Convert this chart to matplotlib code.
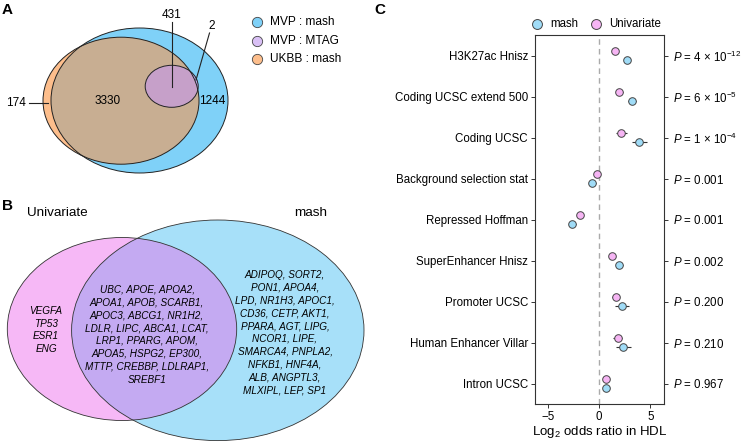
import matplotlib
matplotlib.use('Agg')
import matplotlib.pyplot as plt
from matplotlib.patches import Ellipse

plt.rcParams['font.family'] = ['Liberation Sans', 'DejaVu Sans']
plt.rcParams['mathtext.fontset'] = 'custom'
plt.rcParams['mathtext.rm'] = 'Liberation Sans'
plt.rcParams['mathtext.it'] = 'Liberation Sans:italic'

# ---- panel A: overlap of significant genes
venn_sets = ['MVP : mash', 'MVP : MTAG', 'UKBB : mash']
venn_legend_colors = ['#7fd1f8', '#d9c0f5', '#fdbe8c']
n_ukbb_only = 174
n_ukbb_mvp = 3330
n_all_three = 431
n_mtag_mvp = 2
n_mvp_only = 1244

# ---- panel B: HDL genes found by each method
set_left = 'Univariate'
set_right = 'mash'
genes_uni_only = ['VEGFA', 'TP53', 'ESR1', 'ENG']
genes_both = ['UBC, APOE, APOA2,', 'APOA1, APOB, SCARB1,', 'APOC3, ABCG1, NR1H2,',
              'LDLR, LIPC, ABCA1, LCAT,', 'LRP1, PPARG, APOM,', 'APOA5, HSPG2, EP300,',
              'MTTP, CREBBP, LDLRAP1,', 'SREBF1']
genes_mash_only = ['ADIPOQ, SORT2,', 'PON1, APOA4,', 'LPD, NR1H3, APOC1,', 'CD36, CETP, AKT1,',
                   'PPARA, AGT, LIPG,', 'NCOR1, LIPE,', 'SMARCA4, PNPLA2,', 'NFKB1, HNF4A,',
                   'ALB, ANGPTL3,', 'MLXIPL, LEP, SP1']

# ---- panel C: enrichment of annotations
annotations = ['H3K27ac Hnisz', 'Coding UCSC extend 500', 'Coding UCSC', 'Background selection stat',
               'Repressed Hoffman', 'SuperEnhancer Hnisz', 'Promoter UCSC', 'Human Enhancer Villar',
               'Intron UCSC']
mash_lor = [2.76, 3.21, 3.93, -0.65, -2.60, 1.98, 2.27, 2.37, 0.65]
mash_err = [0.25, 0.40, 0.70, 0.30, 0.30, 0.30, 0.68, 0.74, 0.30]
uni_lor = [1.56, 1.98, 2.17, -0.22, -1.82, 1.24, 1.63, 1.79, 0.65]
uni_err = [0.20, 0.30, 0.50, 0.25, 0.25, 0.30, 0.35, 0.44, 0.30]
p_labels = [r'$P$ = 4 × 10$^{-12}$', r'$P$ = 6 × 10$^{-5}$', r'$P$ = 1 × 10$^{-4}$',
            r'$P$ = 0.001', r'$P$ = 0.001', r'$P$ = 0.002', r'$P$ = 0.200',
            r'$P$ = 0.210', r'$P$ = 0.967']
x_ticks = [-5, 0, 5]
x_tick_labels = ['\u22125', '0', '5']

W, H = 741, 442
fig = plt.figure(figsize=(W / 100, H / 100), dpi=100)

# overlay axes in pixel units for the two Venn panels
ov = fig.add_axes([0, 0, 1, 1])
ov.set_xlim(0, W)
ov.set_ylim(H, 0)
ov.axis('off')

for lab, (x, y) in zip(['A', 'B', 'C'], [(2, 10), (2, 206), (374, 10)]):
    ov.text(x, y, lab, fontsize=11, fontweight='bold', ha='left', va='center')

# panel A ellipses
blue = Ellipse((139.5, 100.5), 177, 145, fc='#7fd1f8', ec='none')
orange = Ellipse((121, 100.7), 156, 127, fc='#fdbe8c', ec='none')
ov.add_patch(blue)
ov.add_patch(orange)
brown = Ellipse((121, 100.7), 156, 127, fc='#c8ae92', ec='none')
ov.add_patch(brown)
brown.set_clip_path(blue)
purple = Ellipse((171.7, 86.3), 53, 42, fc='#bfaef2', ec='none')
ov.add_patch(purple)
mauve = Ellipse((171.7, 86.3), 53, 42, fc='#c6a0c9', ec='none')
ov.add_patch(mauve)
mauve.set_clip_path(orange)
for c, w, h in [((139.5, 100.5), 177, 145), ((121, 100.7), 156, 127), ((171.7, 86.3), 53, 42)]:
    ov.add_patch(Ellipse(c, w, h, fc='none', ec='#222222', lw=0.7))

num_fs = 8.5
ov.plot([172, 172], [22, 87], color='#222222', lw=0.8)
ov.text(172, 15, str(n_all_three), fontsize=num_fs, ha='center', va='center')
ov.plot([209.5, 196], [33, 80], color='#222222', lw=0.8)
ov.text(212, 26, str(n_mtag_mvp), fontsize=num_fs, ha='center', va='center')
ov.plot([29, 48], [103, 103], color='#222222', lw=0.8)
ov.text(15.5, 103, str(n_ukbb_only), fontsize=num_fs, ha='center', va='center')
ov.text(108, 101, str(n_ukbb_mvp), fontsize=num_fs, ha='center', va='center')
ov.text(212, 101, str(n_mvp_only), fontsize=num_fs, ha='center', va='center')

for i, (lab, col) in enumerate(zip(venn_sets, venn_legend_colors)):
    y = 22 + i * 18.7
    ov.scatter([257], [y], s=55, c=col, edgecolors='#444444', linewidths=0.6)
    ov.text(270, y, lab, fontsize=8.6, ha='left', va='center')

# panel B ellipses
pink = Ellipse((122, 329), 229.4, 183, fc='#f6b8f6', ec='none')
lblue = Ellipse((217.8, 330.3), 292.4, 220.6, fc='#a7e0f9', ec='none')
ov.add_patch(pink)
ov.add_patch(lblue)
inter = Ellipse((122, 329), 229.4, 183, fc='#c4aaf2', ec='none')
ov.add_patch(inter)
inter.set_clip_path(lblue)
for c, w, h in [((122, 329), 229.4, 183), ((217.8, 330.3), 292.4, 220.6)]:
    ov.add_patch(Ellipse(c, w, h, fc='none', ec='#333333', lw=0.6))

ov.text(27, 213, set_left, fontsize=9.7, ha='left', va='center')
ov.text(311, 213, set_right, fontsize=9.7, ha='center', va='center')
gene_fs = 7.2
ov.text(46, 330, '\n'.join(genes_uni_only), fontsize=gene_fs, style='italic',
        ha='center', va='center', linespacing=1.36)
ov.text(147, 334.5, '\n'.join(genes_both), fontsize=gene_fs, style='italic',
        ha='center', va='center', linespacing=1.36)
ov.text(285, 332.5, '\n'.join(genes_mash_only), fontsize=gene_fs, style='italic',
        ha='center', va='center', linespacing=1.36)

# panel C forest plot
ax = fig.add_axes([535 / W, (H - 404) / H, 129.3 / W, 369 / H])
rows = list(range(len(annotations)))
off = 0.12
ax.axvline(0, color='#aaaaaa', lw=1, dashes=(4, 3), zorder=1)
ax.errorbar(uni_lor, [r - off for r in rows], xerr=uni_err, fmt='none',
            ecolor='#333333', elinewidth=0.8, zorder=2)
ax.errorbar(mash_lor, [r + off for r in rows], xerr=mash_err, fmt='none',
            ecolor='#333333', elinewidth=0.8, zorder=2)
h_mash = ax.scatter(mash_lor, [r + off for r in rows], s=30, c='#a0dcf7',
                    edgecolors='#444444', linewidths=0.7, zorder=3, label='mash')
h_uni = ax.scatter(uni_lor, [r - off for r in rows], s=30, c='#f6b5f4',
                   edgecolors='#444444', linewidths=0.7, zorder=3, label='Univariate')
ax.set_xlim(-6.25, 6.35)
ax.set_ylim(len(annotations) - 0.5, -0.5)
ax.set_yticks(rows)
ax.set_yticklabels(annotations, fontsize=8.3)
ax.set_xticks(x_ticks)
ax.set_xticklabels(x_tick_labels, fontsize=8.3)
ax.set_xlabel(r'Log$_2$ odds ratio in HDL', fontsize=9.5, labelpad=1)
ax.tick_params(length=3, width=0.7, pad=2, color='#333333')
for s in ax.spines.values():
    s.set_linewidth(0.8)
    s.set_color('#333333')

ax2 = ax.twinx()
ax2.set_ylim(ax.get_ylim())
ax2.set_yticks(rows)
ax2.set_yticklabels(p_labels, fontsize=8.3)
ax2.tick_params(length=3, width=0.7, pad=3, color='#333333')
for s in ax2.spines.values():
    s.set_visible(False)

ax.legend(handles=[h_mash, h_uni], loc='lower center', bbox_to_anchor=(0.45, 0.995),
          ncol=2, frameon=False, fontsize=8.3, handletextpad=0.1, columnspacing=0.6,
          borderaxespad=0.2, markerscale=1.3)

fig.savefig('out.png', dpi=100)
